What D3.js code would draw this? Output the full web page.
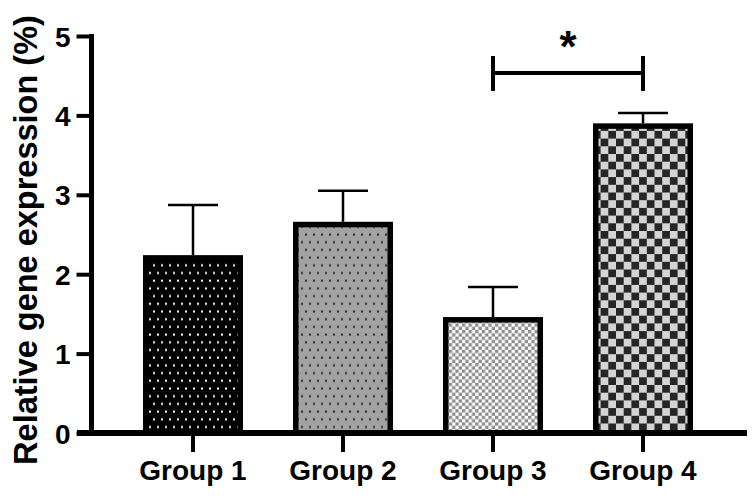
<!DOCTYPE html>
<html lang="en">
<head>
<meta charset="utf-8">
<title>Relative gene expression</title>
<script src="https://cdn.jsdelivr.net/npm/d3@7"></script>
<style>
  body { margin: 0; background: #fff; }
  text { font-family: "Liberation Sans", Arial, sans-serif; font-weight: bold; }
</style>
</head>
<body>
<script>
// data
var groups = ["Group 1", "Group 2", "Group 3", "Group 4"];
var means = [2.24, 2.66, 1.46, 3.90];
var errors = [0.63, 0.39, 0.38, 0.13];
var yTicks = [0, 1, 2, 3, 4, 5];
var sigPair = ["Group 3", "Group 4"];
var sigLabel = "*";

var w = 756, h = 496;
var sw = 5.5; // bar outline

var svg = d3.select("body").append("svg")
    .attr("width", w)
    .attr("height", h);

var x = d3.scaleBand()
    .domain(groups)
    .range([118, 718])
    .paddingInner(1 / 3)
    .paddingOuter(1 / 6);

var y = d3.scaleLinear()
    .domain([0, 5])
    .range([433, 36]);

// fill patterns
var defs = svg.append("defs");

function dots(id, bg, fg) {
  var p = defs.append("pattern").attr("id", id)
      .attr("patternUnits", "userSpaceOnUse")
      .attr("width", 8).attr("height", 15.4);
  p.append("rect").attr("width", 8).attr("height", 15.4).attr("fill", bg);
  p.append("rect").attr("x", 1).attr("y", 2.5).attr("width", 2).attr("height", 2).attr("fill", fg);
  p.append("rect").attr("x", 5).attr("y", 10.2).attr("width", 2).attr("height", 2).attr("fill", fg);
}
function checks(id, c, a, b) {
  var p = defs.append("pattern").attr("id", id)
      .attr("patternUnits", "userSpaceOnUse")
      .attr("width", 2 * c).attr("height", 2 * c);
  p.append("rect").attr("width", 2 * c).attr("height", 2 * c).attr("fill", a);
  p.append("rect").attr("width", c).attr("height", c).attr("fill", b);
  p.append("rect").attr("x", c).attr("y", c).attr("width", c).attr("height", c).attr("fill", b);
}
dots("p1", "#000", "#fff");
dots("p2", "#a2a2a2", "#2a2a2a");
checks("p3", 3.3, "#fff", "#8c8c8c");
checks("p4", 7.7, "#d4d4d4", "#262626");
var fills = ["url(#p1)", "url(#p2)", "url(#p3)", "url(#p4)"];

// error bars (upper only)
var capW = 50;
var eb = svg.append("g").attr("stroke", "#000").attr("stroke-width", 2.5);
groups.forEach(function(g, i) {
  var cx = x(g) + x.bandwidth() / 2;
  eb.append("line")
    .attr("x1", cx).attr("x2", cx)
    .attr("y1", y(means[i])).attr("y2", y(means[i] + errors[i]));
  eb.append("line")
    .attr("x1", cx - capW / 2).attr("x2", cx + capW / 2)
    .attr("y1", y(means[i] + errors[i])).attr("y2", y(means[i] + errors[i]));
});

// bars
svg.selectAll("rect.bar")
   .data(means)
   .enter()
   .append("rect")
   .attr("class", "bar")
   .attr("x", function(d, i) { return x(groups[i]) + sw / 2; })
   .attr("y", function(d) { return y(d) + sw / 2; })
   .attr("width", x.bandwidth() - sw)
   .attr("height", function(d) { return y(0) - y(d) - sw / 2; })
   .attr("fill", function(d, i) { return fills[i]; })
   .attr("stroke", "#000")
   .attr("stroke-width", sw);

// y axis
var yAxis = d3.axisLeft(y)
    .tickValues(yTicks)
    .tickSize(15)
    .tickSizeOuter(0)
    .tickPadding(6)
    .tickFormat(d3.format("d"));

var gy = svg.append("g")
   .attr("transform", "translate(91.5,0)")
   .call(yAxis);
gy.select(".domain").attr("stroke-width", 5).attr("d", "M0," + (y(0) + 3) + "V" + (y(5) - 2));
gy.selectAll(".tick line").attr("stroke-width", 4);
gy.selectAll(".tick text").attr("font-size", 28).attr("fill", "#000").attr("dy", "0.36em");

// x axis
var xAxis = d3.axisBottom(x).tickSize(16).tickSizeOuter(0).tickPadding(8);
var gx = svg.append("g")
   .attr("transform", "translate(0,436)")
   .call(xAxis);
gx.select(".domain").remove();
gx.selectAll(".tick line").attr("stroke-width", 4);
gx.selectAll(".tick text").attr("font-size", 28).attr("fill", "#000");
svg.append("line")
   .attr("x1", 77).attr("x2", 747)
   .attr("y1", y(0)).attr("y2", y(0))
   .attr("stroke", "#000").attr("stroke-width", 6);

// y title
svg.append("text")
   .attr("transform", "translate(37," + 240 + ") rotate(-90)")
   .attr("text-anchor", "middle")
   .attr("font-size", 32.5)
   .text("Relative gene expression (%)");

// significance bracket
var bx1 = x(sigPair[0]) + x.bandwidth() / 2;
var bx2 = x(sigPair[1]) + x.bandwidth() / 2;
var br = svg.append("g").attr("stroke", "#000").attr("stroke-width", 4);
br.append("line").attr("x1", bx1).attr("x2", bx2).attr("y1", 73).attr("y2", 73);
br.append("line").attr("x1", bx1).attr("x2", bx1).attr("y1", 56).attr("y2", 91);
br.append("line").attr("x1", bx2).attr("x2", bx2).attr("y1", 56).attr("y2", 91);
svg.append("text")
   .attr("x", (bx1 + bx2) / 2)
   .attr("y", 62)
   .attr("text-anchor", "middle")
   .attr("font-size", 44)
   .text(sigLabel);
</script>
</body>
</html>
